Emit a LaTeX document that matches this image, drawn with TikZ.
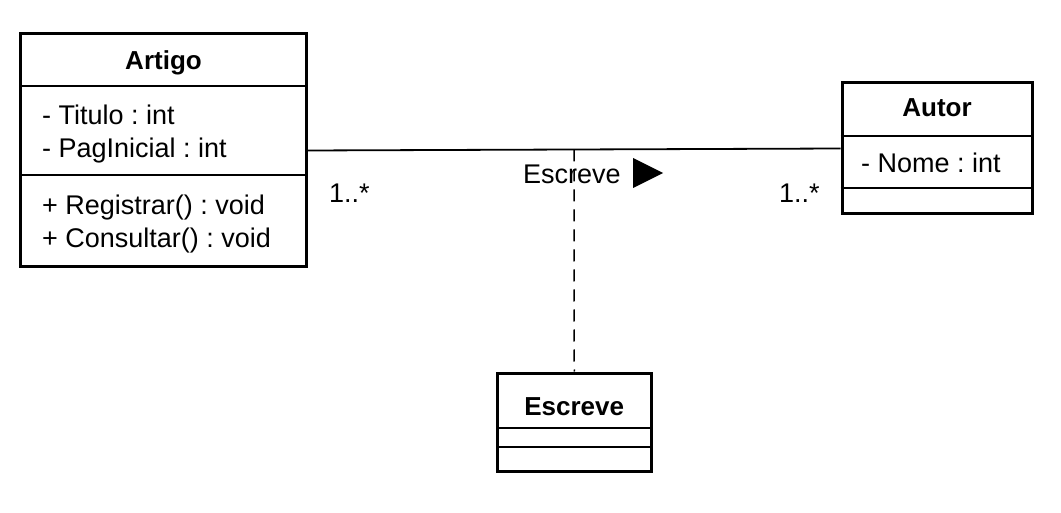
\documentclass[tikz,border=0pt]{standalone}
\usepackage{fontspec}
\setmainfont{Liberation Sans}
\frenchspacing
\begin{document}
\begin{tikzpicture}[x=1pt,y=-1pt,
  classbox/.style={draw, line width=3pt, inner sep=0pt, fill=white},
  divider/.style={line width=1.5pt},
  member/.style={anchor=base west, inner sep=0pt, font=\fontsize{27}{32}\selectfont},
  title/.style={anchor=base, inner sep=0pt, font=\fontsize{26}{31}\selectfont\bfseries},
  lbl/.style={anchor=base west, inner sep=0pt, font=\fontsize{27}{32}\selectfont},
  assoc/.style={line width=1.8pt},
  assocclass/.style={line width=1.5pt, dash pattern=on 12pt off 8pt}]
\useasboundingbox (0,0) rectangle (1061,513);
% classes
\node[classbox, minimum width=285.5pt, minimum height=233pt] (artigo) at (163.25,150.5) {};
\node[classbox, minimum width=190pt, minimum height=131pt] (autor) at (937,148.5) {};
\node[classbox, minimum width=153.5pt, minimum height=98pt] (escreve) at (574.25,422) {};
% dividers
\draw[divider] (artigo.west |- 0,86) -- (artigo.east |- 0,86);
\draw[divider] (artigo.west |- 0,175) -- (artigo.east |- 0,175);
\draw[divider] (autor.west |- 0,136) -- (autor.east |- 0,136);
\draw[divider] (autor.west |- 0,188) -- (autor.east |- 0,188);
\draw[divider] (escreve.west |- 0,428) -- (escreve.east |- 0,428);
\draw[divider] (escreve.west |- 0,447) -- (escreve.east |- 0,447);
% texts
\node[title] (tArtigo) at (163.5,70) {Artigo};
\node[member] (aTitulo) at (42,125) {- Titulo : int};
\node[member] (aPag) at (42,158) {- PagInicial : int};
\node[member] (mReg) at (42,215) {+ Registrar() : void};
\node[member] (mCons) at (42,248) {+ Consultar() : void};
\node[title] (tAutor) at (937,117) {Autor};
\node[member] (aNome) at (861,173) {- Nome : int};
\node[title] (tEscreve) at (574.25,415) {Escreve};
% association
\draw[assoc] (artigo.east) -- coordinate[pos=0.5] (mid) (autor.west);
\draw[assocclass] (mid) -- (escreve.north);
\node[lbl] (assocname) at (523,184) {Escreve};
\fill (633,158) -- (663,173) -- (633,188) -- cycle;
\node[lbl] (multL) at (329,203) {1..*};
\node[lbl] (multR) at (779,203) {1..*};
\end{tikzpicture}
\end{document}
